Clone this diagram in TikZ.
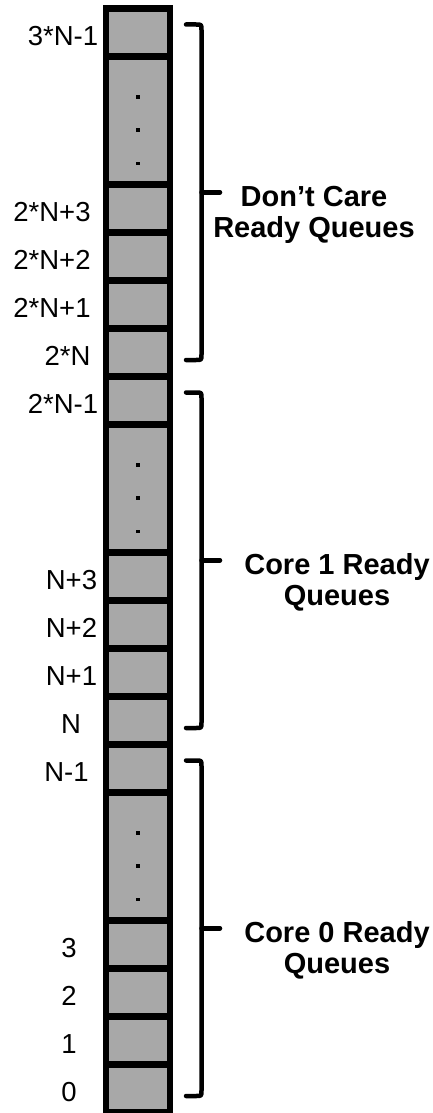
\documentclass[tikz,border=0pt]{standalone}
\usepackage{fontspec}
\setmainfont{Liberation Sans}
\definecolor{cellgray}{RGB}{168,168,168}
\begin{document}
\begin{tikzpicture}[x=1pt,y=-1pt,
  cellbox/.style={draw=black,fill=cellgray,line width=6.4pt,inner sep=0pt,
    minimum width=64pt,minimum height=#1},
  cellbox/.default=48pt,
  idx/.style={inner sep=0pt,anchor=base,font=\fontsize{27.5}{31}\selectfont},
  grp/.style={inner sep=0pt,anchor=base,font=\fontsize{29}{33}\selectfont\bfseries},
  bracestroke/.style={line width=4.5pt,line cap=round,line join=round},
  dotmark/.style={fill=black,minimum size=3.6pt,inner sep=0pt}
]
\useasboundingbox (0,0) rectangle (433,1113);

% three groups of queue slots stacked in one column
\foreach \g in {0,1,2}{
  \pgfmathsetmacro\o{8.5+368*\g}
  \node[cellbox] (c\g-top) at (138,\o+24) {};
  \node[cellbox=128pt] (c\g-dots) at (138,\o+112) {};
  \node[cellbox] (c\g-3) at (138,\o+200) {};
  \node[cellbox] (c\g-2) at (138,\o+248) {};
  \node[cellbox] (c\g-1) at (138,\o+296) {};
  \node[cellbox] (c\g-0) at (138,\o+344) {};
  % vertical ellipsis inside the elided slot
  \node[dotmark] (d\g-a) at (138,\o+88.5) {};
  \node[dotmark] (d\g-b) at (138,\o+121.5) {};
  \node[dotmark] (d\g-c) at (138,\o+155) {};
  % right brace spanning the group
  \pgfmathsetmacro\t{24.5+368*\g}
  \pgfmathsetmacro\b{360+368*\g}
  \pgfmathsetmacro\m{(\t+\b)/2}
  \draw[bracestroke] (186,\t) -- (196,\t) .. controls (201.5,\t) .. (201.5,\t+5.5)
    -- (201.5,\b-5.5) .. controls (201.5,\b) .. (196,\b) -- (186,\b);
  \draw[bracestroke] (201.5,\m) -- (220,\m);
}

% slot indices
\node[idx] (l0-top) at (63,45.5) {3*N-1};
\node[idx] (l0-3) at (52,221.5) {2*N+3};
\node[idx] (l0-2) at (52,269.5) {2*N+2};
\node[idx] (l0-1) at (52,317.5) {2*N+1};
\node[idx] (l0-0) at (67.5,365.5) {2*N};

\node[idx] (l1-top) at (63,413.5) {2*N-1};
\node[idx] (l1-3) at (71.5,589.5) {N+3};
\node[idx] (l1-2) at (71.5,637.5) {N+2};
\node[idx] (l1-1) at (71.5,685.5) {N+1};
\node[idx] (l1-0) at (71,733.5) {N};

\node[idx] (l2-top) at (66.5,781.5) {N-1};
\node[idx] (l2-3) at (69,957.5) {3};
\node[idx] (l2-2) at (69,1005.5) {2};
\node[idx] (l2-1) at (69,1053.5) {1};
\node[idx] (l2-0) at (69,1101.5) {0};

% group captions
\node[grp] (g0a) at (314,206) {Don’t Care};
\node[grp] (g0b) at (314,237) {Ready Queues};
\node[grp] (g1a) at (337,574) {Core 1 Ready};
\node[grp] (g1b) at (337,605) {Queues};
\node[grp] (g2a) at (337,942) {Core 0 Ready};
\node[grp] (g2b) at (337,973) {Queues};
\end{tikzpicture}
\end{document}
